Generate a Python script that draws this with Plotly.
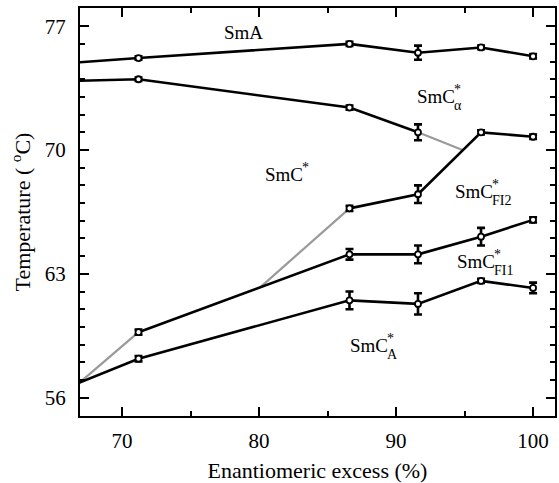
import plotly.graph_objects as go

# Measured compositions (enantiomeric excess, %)
ee = [71.2, 86.6, 91.6, 96.2, 100]

# Phase-boundary temperatures (deg C) with error bars
t_sma = [75.2, 76.0, 75.5, 75.8, 75.3]
e_sma = [0.1, 0.12, 0.4, 0.1, 0.12]

ee_calpha = [71.2, 86.6, 91.6]
t_calpha = [74.0, 72.4, 71.0]
e_calpha = [0.1, 0.12, 0.45]

ee_fi2 = [86.6, 91.6, 96.2, 100]
t_fi2 = [66.7, 67.5, 71.0, 70.75]
e_fi2 = [0.15, 0.5, 0.12, 0.12]

t_fi1 = [59.7, 64.1, 64.1, 65.1, 66.05]
e_fi1 = [0.15, 0.3, 0.5, 0.5, 0.15]

t_ca = [58.2, 61.5, 61.3, 62.6, 62.2]
e_ca = [0.15, 0.5, 0.6, 0.12, 0.3]

# Extrapolated line ends (no markers)
x_left = 66.9
t_left_sma = 74.96
t_left_calpha = 73.92
t_left_low = 56.85
x_cross = 94.85
t_cross = 70.0
x_branch = 80.1
t_branch = 62.25

# Phase labels: (x, y of "SmC" centre, main text, subscript)
phase_x = [78.85, 91.4, 80.3, 94.15, 94.3, 86.46]
phase_y = [76.62, 73.0, 68.59, 67.63, 63.67, 58.97]
phase_main = ["SmA", "SmC", "SmC", "SmC", "SmC", "SmC"]
phase_star = [False, True, True, True, True, True]
phase_sub = ["", "α", "", "FI2", "FI1", "A"]

BLACK = "#000000"
GRAY = "#9a9a9a"
LW = 2.6

fig = go.Figure()

def line(x, y, color, width=LW):
    fig.add_trace(go.Scatter(x=x, y=y, mode="lines", line=dict(color=color, width=width),
                             showlegend=False, hoverinfo="skip"))

def pts(x, y, err):
    fig.add_trace(go.Scatter(x=x, y=y, mode="markers",
                             marker=dict(symbol="circle", size=6, color="white",
                                         line=dict(color=BLACK, width=1.8)),
                             error_y=dict(type="data", array=err, visible=True,
                                          color=BLACK, thickness=2.6, width=4),
                             showlegend=False))

# gray extrapolations
line([ee_calpha[-1], x_cross], [t_calpha[-1], t_cross], GRAY, 2.2)
line([x_branch, ee_fi2[0]], [t_branch, t_fi2[0]], GRAY, 2.2)
line([x_left, ee[0]], [t_left_low, t_fi1[0]], GRAY, 2.2)

# black boundaries
line([x_left] + ee, [t_left_sma] + t_sma, BLACK)
line([x_left] + ee_calpha, [t_left_calpha] + t_calpha, BLACK)
line(ee_fi2, t_fi2, BLACK)
line(ee, t_fi1, BLACK)
line([x_left] + ee, [t_left_low] + t_ca, BLACK)

pts(ee, t_sma, e_sma)
pts(ee_calpha, t_calpha, e_calpha)
pts(ee_fi2, t_fi2, e_fi2)
pts(ee, t_fi1, e_fi1)
pts(ee, t_ca, e_ca)

FONT = "Liberation Serif"
FS = 19
SMC_W = 38  # pixel advance of "SmC" at FS
for x, y, m, star, sub in zip(phase_x, phase_y, phase_main, phase_star, phase_sub):
    if m == "SmA":
        fig.add_annotation(x=x, y=y, text=m, showarrow=False, xanchor="center", yanchor="middle",
                           font=dict(family=FONT, size=FS, color=BLACK))
        continue
    fig.add_annotation(x=x, y=y, text=m, showarrow=False, xanchor="left", yanchor="middle",
                       font=dict(family=FONT, size=FS, color=BLACK))
    if star:
        fig.add_annotation(x=x, y=y, text="*", showarrow=False, xanchor="left", yanchor="middle",
                           xshift=SMC_W - 1, yshift=7,
                           font=dict(family=FONT, size=14, color=BLACK))
    if sub:
        fig.add_annotation(x=x, y=y, text=sub, showarrow=False, xanchor="left", yanchor="middle",
                           xshift=SMC_W - 1, yshift=-9,
                           font=dict(family=FONT, size=14, color=BLACK))

axis_common = dict(showline=True, linecolor=BLACK, linewidth=2, mirror="ticks",
                   ticks="inside", ticklen=9, tickwidth=1.5, tickcolor=BLACK,
                   showgrid=False, zeroline=False,
                   tickfont=dict(family=FONT, size=21, color=BLACK))

fig.update_xaxes(**axis_common, range=[66.93, 101.6], tickvals=[70, 80, 90, 100],
                 minor=dict(ticks="inside", ticklen=5, tickwidth=1.5, tickcolor=BLACK,
                            tickvals=[75, 85, 95]),
                 ticklabelstandoff=5,
                 title=dict(text="Enantiomeric excess (%)",
                            font=dict(family=FONT, size=22, color=BLACK), standoff=10))
fig.update_yaxes(**axis_common, range=[54.96, 78.03], tickvals=[56, 63, 70, 77],
                 minor=dict(ticks="inside", ticklen=5, tickwidth=1.5, tickcolor=BLACK,
                            dtick=1, tick0=56),
                 ticklabelstandoff=8,
                 title=dict(text="Temperature ( <sup>o</sup>C)",
                            font=dict(family=FONT, size=22, color=BLACK), standoff=8))

fig.update_layout(width=559, height=483, margin=dict(l=80, r=2, t=8, b=67),
                  plot_bgcolor="white", paper_bgcolor="white")

fig.write_html("out.html")
